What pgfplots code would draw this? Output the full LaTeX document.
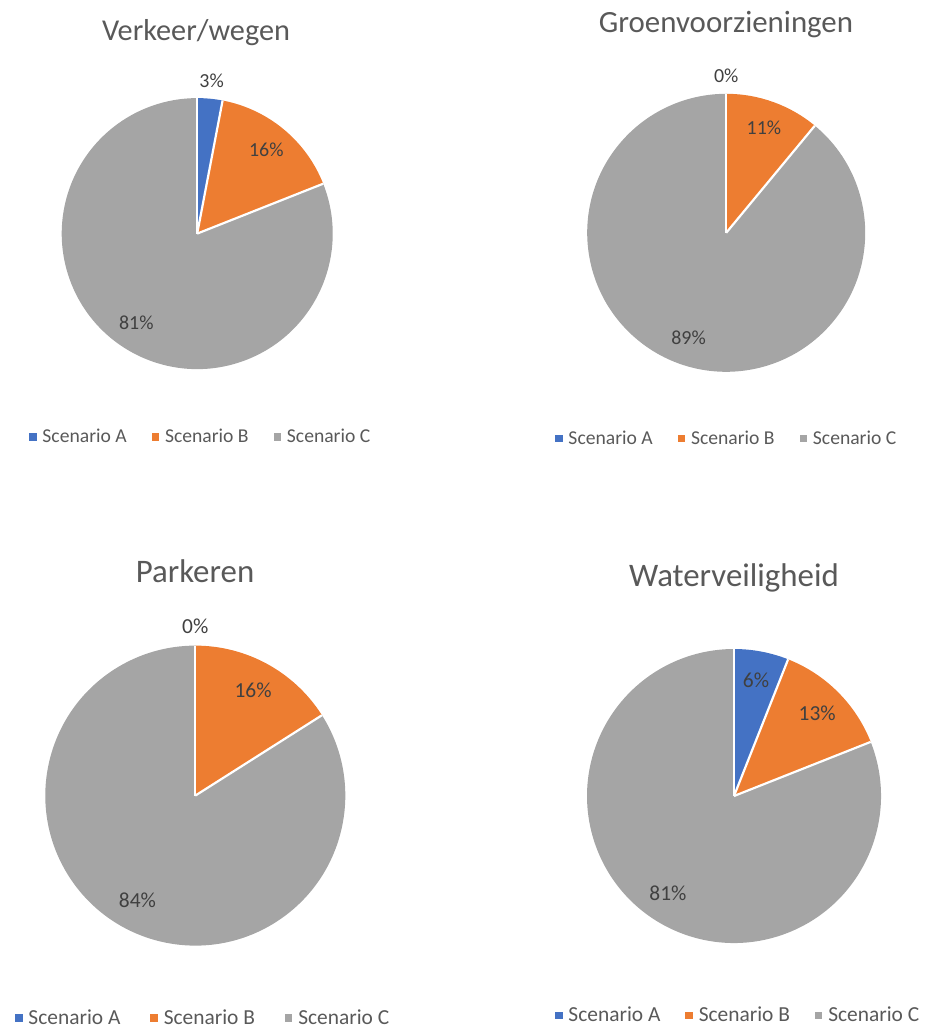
\documentclass[border=0pt]{standalone}
\usepackage{pgfplots}
\pgfplotsset{compat=1.18}
\usepackage{pgfplotstable}
\usepackage{fontspec}
\setmainfont{Carlito}

\definecolor{scA}{HTML}{4472C4}
\definecolor{scB}{HTML}{ED7D31}
\definecolor{scC}{HTML}{A5A5A5}
\definecolor{titlegray}{HTML}{595959}
\definecolor{labelgray}{HTML}{404040}

% one table per chart: share in percent
\pgfplotstableread{
cat val col
A 3 scA
B 16 scB
C 81 scC
}\verkeer
\pgfplotstableread{
cat val col
A 0 scA
B 11 scB
C 89 scC
}\groen
\pgfplotstableread{
cat val col
A 0 scA
B 16 scB
C 84 scC
}\parkeren
\pgfplotstableread{
cat val col
A 6 scA
B 13 scB
C 81 scC
}\water

\tikzset{
  lbltop/.style={font=\fontsize{20}{24}\selectfont, text=labelgray},
  lblbot/.style={font=\fontsize{21.5}{26}\selectfont, text=labelgray},
}

% sectors clockwise from 12 o'clock, white separators, data labels
% #1 table, #2 radius (bp), #3 label style
\newcommand\piesectors[3]{%
  \pgfplotstablegetrowsof{#1}%
  \pgfmathtruncatemacro\lastrow{\pgfplotsretval-1}%
  \gdef\piecum{0}%
  \foreach \i in {0,...,\lastrow}{%
    \pgfplotstablegetelem{\i}{val}\of{#1}\let\pv\pgfplotsretval
    \pgfplotstablegetelem{\i}{col}\of{#1}\let\pc\pgfplotsretval
    \pgfmathsetmacro\sa{90-3.6*\piecum}%
    \pgfmathsetmacro\ea{90-3.6*(\piecum+\pv)}%
    \pgfmathsetmacro\sx{#2*cos(\sa)}%
    \pgfmathsetmacro\sy{#2*sin(\sa)}%
    \edef\tmp{\noexpand\fill[\pc] (axis cs:0,0) -- (axis cs:\sx,\sy)
      arc[start angle=\sa, end angle=\ea, radius=#2bp] -- cycle;}%
    \tmp
    \pgfmathsetmacro\newcum{\piecum+\pv}\xdef\piecum{\newcum}%
  }%
  \gdef\piecum{0}%
  \foreach \i in {0,...,\lastrow}{%
    \pgfplotstablegetelem{\i}{val}\of{#1}\let\pv\pgfplotsretval
    \pgfmathsetmacro\sa{90-3.6*\piecum}%
    \pgfmathsetmacro\ea{90-3.6*(\piecum+\pv)}%
    \pgfmathsetmacro\ma{(\sa+\ea)/2}%
    \pgfmathsetmacro\sx{#2*cos(\sa)}%
    \pgfmathsetmacro\sy{#2*sin(\sa)}%
    \pgfmathsetmacro\lr{(\pv<5 ? 1.13 : 0.8)*#2}%
    \pgfmathsetmacro\lx{\lr*cos(\ma)}%
    \pgfmathsetmacro\ly{\lr*sin(\ma)}%
    \edef\tmp{\noexpand\draw[white, line width=2.2bp] (axis cs:0,0) -- (axis cs:\sx,\sy);
      \noexpand\node[#3] at (axis cs:\lx,\ly) {\pv\noexpand\%};}%
    \tmp
    \pgfmathsetmacro\newcum{\piecum+\pv}\xdef\piecum{\newcum}%
  }%
}

\pgfplotsset{
  pie/.style={
    x=1bp, y=1bp, xmin=-#1, xmax=#1, ymin=-#1, ymax=#1,
    hide axis, clip=false, anchor=center,
    legend columns=3,
    legend image code/.code={\fill[##1] (0bp,-3.2bp) rectangle (6.4bp,3.2bp);},
  },
  pielegend/.style n args={3}{
    legend style={draw=none, fill=none, inner sep=0pt, at={#1}, anchor=west,
      font=\fontsize{#2}{#2}\selectfont, text=titlegray,
      /tikz/every odd column/.append style={column sep=4.5bp},
      /tikz/every even column/.append style={column sep=#3}},
  },
}

\newcommand\pielegendentries{%
  \addlegendimage{scA}\addlegendentry{Scenario A}
  \addlegendimage{scB}\addlegendentry{Scenario B}
  \addlegendimage{scC}\addlegendentry{Scenario C}
}

\begin{document}
\begin{tikzpicture}
\path (0bp,0bp) rectangle (928bp,-1028bp);

% Verkeer/wegen
\begin{axis}[pie=135.5, at={(197.2bp,-233.6bp)},
  pielegend={(axis cs:-168.2,-202.9)}{19.7}{23bp}]
  \pielegendentries
  \piesectors{\verkeer}{135.5}{lbltop}
\end{axis}
\node[anchor=base, text=titlegray, font=\fontsize{30.4}{36}\selectfont]
  at (196bp,-40bp) {Verkeer/wegen};

% Groenvoorzieningen
\begin{axis}[pie=139, at={(726.2bp,-232.8bp)},
  pielegend={(axis cs:-171.2,-205.2)}{19.7}{23bp}]
  \pielegendentries
  \piesectors{\groen}{139}{lbltop}
\end{axis}
\node[anchor=base, text=titlegray, font=\fontsize{31}{37}\selectfont]
  at (726bp,-32bp) {Groenvoorzieningen};

% Parkeren
\begin{axis}[pie=150, at={(195.3bp,-795.6bp)},
  pielegend={(axis cs:-180.3,-221.9)}{21.5}{28bp}]
  \pielegendentries
  \piesectors{\parkeren}{150}{lblbot}
\end{axis}
\node[anchor=base, text=titlegray, font=\fontsize{33}{40}\selectfont]
  at (195bp,-582bp) {Parkeren};

% Waterveiligheid
\begin{axis}[pie=147, at={(734bp,-796bp)},
  pielegend={(axis cs:-179,-219)}{21.5}{23bp}]
  \pielegendentries
  \piesectors{\water}{147}{lblbot}
\end{axis}
\node[anchor=base, text=titlegray, font=\fontsize{33}{40}\selectfont]
  at (734bp,-586bp) {Waterveiligheid};
\end{tikzpicture}
\end{document}
